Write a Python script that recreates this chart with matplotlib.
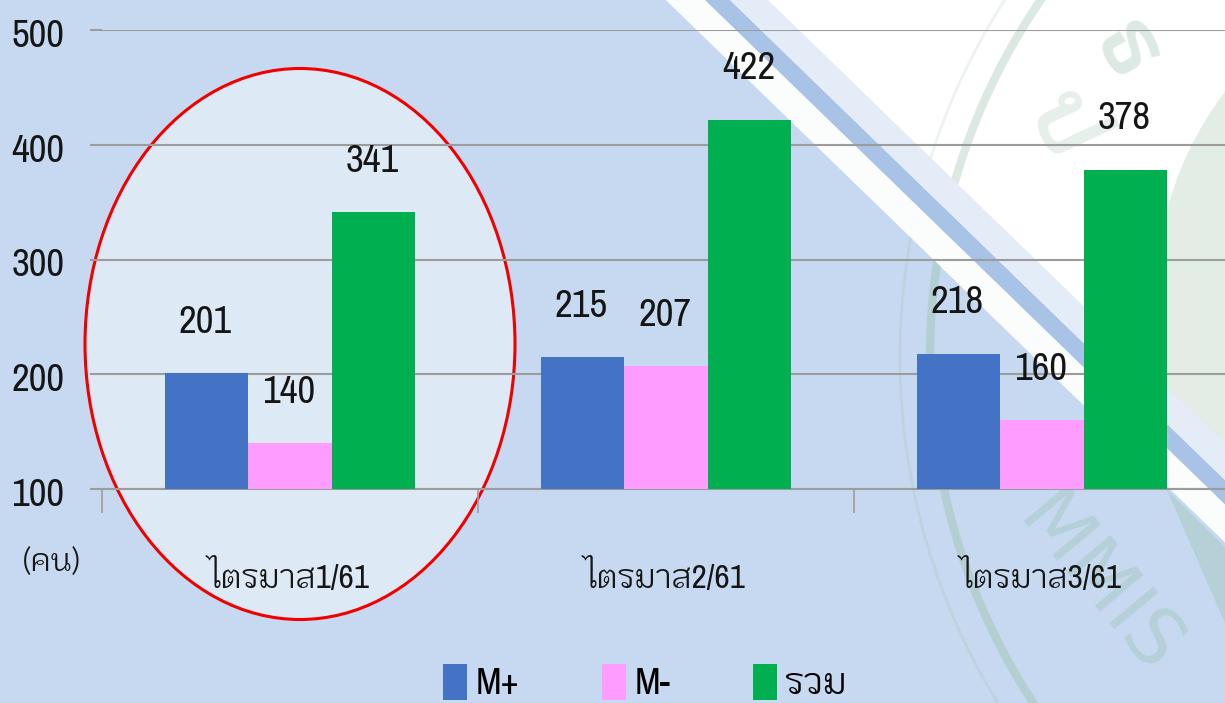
import matplotlib
matplotlib.use('Agg')
import matplotlib.pyplot as plt
from matplotlib.patches import Ellipse, Polygon, Circle
from matplotlib.transforms import Affine2D

categories = ['ไตรมาส1/61', 'ไตรมาส2/61', 'ไตรมาส3/61']
series_names = ['M+', 'M-', 'รวม']
m_plus = [201, 215, 218]
m_minus = [140, 207, 160]
total = [341, 422, 378]
y_ticks = [100, 200, 300, 400, 500]
unit_label = '(คน)'
colors = ['#4472C4', '#FF9CFF', '#00B050']
FONT = ['Archivo Narrow', 'KoHo', 'DejaVu Sans']
THAI = ['KoHo', 'DejaVu Sans']
INK = '#151515'
W, H = 1225, 703
BLUE = '#C6D9F0'

fig = plt.figure(figsize=(W/100, H/100), dpi=100, facecolor='white')
bg = fig.add_axes([0, 0, 1, 1], zorder=0)
bg.set_xlim(0, W); bg.set_ylim(H, 0); bg.axis('off')
S = 0.97

def band(a, b, color, z, alpha=1):
    pts = [[a, 0], [b, 0], [b + H/S, H], [a + H/S, H]]
    return bg.add_patch(Polygon(pts, fc=color, ec='none', alpha=alpha, zorder=z))

# seal, white part
bg.add_patch(Circle((1561, 357), 631, fc='none', ec='#DCE8E2', lw=6, zorder=1))
bg.add_patch(Circle((1561, 357), 661, fc='none', ec='#EDF3EF', lw=2, zorder=1))
bg.add_patch(Circle((1500, 300), 345, fc='#E2EDE5', ec='none', zorder=1))
bg.text(1125, 52, 'ธ', family=THAI, fontsize=66, fontweight='bold', color='#DDE9E3', rotation=-60,
        ha='center', va='center', rotation_mode='anchor', zorder=1)
bg.text(1062, 125, 'ป', family=THAI, fontsize=66, fontweight='bold', color='#E6EFEA', rotation=-65,
        ha='center', va='center', rotation_mode='anchor', zorder=1)

# blue field lower-left of the diagonal
blue_field = Polygon([[0, 0], [666, 0], [666 + H/S, H], [0, H]], fc=BLUE, ec='none', zorder=2,
                     transform=bg.transData)
bg.add_patch(blue_field)
for R, col, lw in [(631, '#B4CFD2', 6), (661, '#BCD3E0', 2)]:
    ring = Circle((1561, 357), R, fc='none', ec=col, lw=lw, zorder=2.5)
    bg.add_patch(ring)
    ring.set_clip_path(blue_field)
bg.add_patch(Polygon([[1167, 490], [1225, 547], [1225, 623]], fc='#B5D0D6', ec='none', zorder=2.5))
t = bg.text(1098, 585, 'MMIS', family='DejaVu Sans', fontsize=56, color='#B5D0D8', rotation=-50,
            ha='center', va='center', rotation_mode='anchor', zorder=2.5)
t.set_clip_path(blue_field)

band(666, 705, '#FBFCFC', 3)
band(705, 730, '#A9C3E6', 3)
band(730, 768, '#E3ECF7', 3)
bg.add_patch(Ellipse((300, 344), 430, 551, fc='#DEE9F6', ec='#F00000', lw=2.2, zorder=4))

ax = fig.add_axes([102/W, 1-489/H, (W-102)/W, (489-30)/H], zorder=2)
ax.patch.set_alpha(0)
slot = 376.0
x = [(i + 0.5) for i in range(3)]
bw = 83.5 / slot
for off, vals, c, name in zip([-1, 0, 1], [m_plus, m_minus, total], colors, series_names):
    ax.bar([v + off*bw for v in x], [v - 100 for v in vals], bottom=100, width=bw, color=c, label=name, zorder=3)
    for xi, v in zip(x, vals):
        ax.annotate(str(v), (xi + off*bw, v), xytext=(-1, 51), textcoords='offset pixels',
                    ha='center', va='center', fontsize=28, family=FONT, color=INK, zorder=5)
ax.set_xlim(0, (W-102)/slot)
ax.set_ylim(100, 500)
ax.set_yticks(y_ticks)
ax.set_xticks([0, 1, 2])
ax.set_xticklabels([])
GREY = '#9C9C9C'
ax.tick_params(axis='x', length=17, color=GREY, width=1.2)
ax.tick_params(axis='y', length=9, color=GREY, width=1.5, labelsize=28, labelcolor=INK, pad=18)
for l in ax.get_yticklabels():
    l.set_family(FONT)
    l.set_transform(l.get_transform() + Affine2D().translate(0, -3))
ax.yaxis.grid(True, color=GREY, lw=1.5, zorder=1)
ax.set_axisbelow(True)
for s in ['top', 'right', 'left']:
    ax.spines[s].set_visible(False)
ax.spines['bottom'].set_color(GREY); ax.spines['bottom'].set_linewidth(1.5)

for xi, c in zip(x, categories):
    ax.annotate(c, (xi, 100), xytext=(0, -88), textcoords='offset pixels', ha='center', va='center',
                fontsize=24, family=FONT, color=INK, annotation_clip=False)
fig.text(52/W, 1-563/H, unit_label, ha='center', va='center', fontsize=23, family=THAI, color=INK)
handles, labels = ax.get_legend_handles_labels()
fig.legend(handles, labels, loc='center', bbox_to_anchor=(645/W, 1-682/H), ncol=3, frameon=False,
           prop={'family': FONT, 'size': 27}, handlelength=0.64, handleheight=1.1, columnspacing=2.2,
           handletextpad=0.23, borderpad=0)
fig.savefig('out.png', dpi=100, facecolor=fig.get_facecolor())
